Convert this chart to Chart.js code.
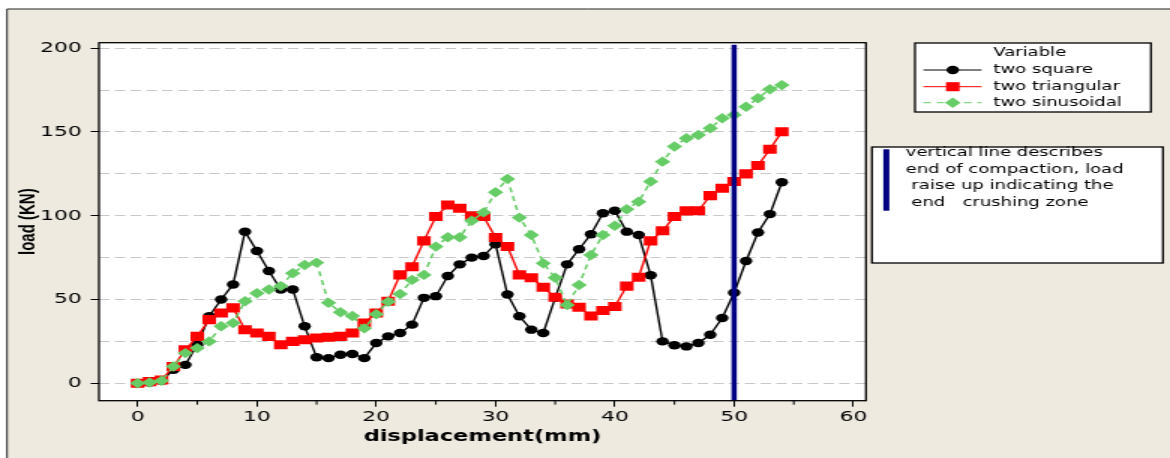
<!DOCTYPE html>
<html>
<head>
<meta charset="utf-8">
<title>load vs displacement</title>
<script src="https://cdn.jsdelivr.net/npm/chart.js@4.4.1/dist/chart.umd.min.js"></script>
<style>
  html, body { margin: 0; padding: 0; background: #fff; }
</style>
</head>
<body>
<!-- the original picture is stretched sideways, so the canvas is drawn narrow and widened by its style -->
<canvas id="chart" width="780" height="458" style="display:block;width:1170px;height:458px"></canvas>
<script>
const displacement = [0, 1, 2, 3, 4, 5, 6, 7, 8, 9, 10, 11, 12, 13, 14, 15, 16, 17, 18, 19,
  20, 21, 22, 23, 24, 25, 26, 27, 28, 29, 30, 31, 32, 33, 34, 35, 36, 37, 38, 39,
  40, 41, 42, 43, 44, 45, 46, 47, 48, 49, 50, 51, 52, 53, 54];

const twoSquare = [0, 0.5, 1.5, 8, 11, 23, 40, 50, 59, 90.5,
  79, 67, 56, 56, 34, 15.5, 15, 17, 17.5, 15,
  24, 28, 30, 35, 51, 52, 64, 71, 75, 76,
  83, 53, 40, 32, 30, 51, 71, 80, 89, 101.5,
  103, 90.5, 88.5, 64.5, 25, 22.7, 22, 24, 29, 39,
  54, 73, 90, 101, 120];

const twoTriangular = [0, 1, 2, 10, 20, 28, 38, 42, 45, 32,
  30, 28, 23, 25, 26, 27, 27.5, 28, 30, 36,
  42, 49, 64.7, 69.6, 85, 99.5, 106.4, 104.5, 100, 99.5,
  87, 81.6, 64.7, 63, 57.3, 51.3, 47.3, 45.4, 40.2, 43.4,
  45.8, 58, 63.3, 85, 91, 99.5, 102.9, 103, 112, 116.4,
  120.4, 125, 130, 139.7, 150.2];

const twoSinusoidal = [0, 0.5, 1.5, 10, 18, 21, 25, 34, 36, 49,
  53.7, 56, 58, 65.7, 70.6, 72, 48, 42.4, 40.2, 32.8,
  41.2, 48.7, 53.3, 61.7, 64.7, 81.6, 87.2, 87.2, 97, 102,
  114, 122, 98.9, 88.5, 71.6, 63, 46.7, 58.7, 76.6, 88.5,
  94, 103.9, 108.4, 120.4, 132.3, 141.3, 146.3, 148.2, 152.2, 158.2,
  160.2, 165.1, 170.1, 175.5, 178];

const seriesNames = ["two square", "two triangular", "two sinusoidal"];
const compactionEnd = 50;
const noteLines = [
  "vertical line describes",
  "end of compaction, load",
  " raise up indicating the",
  " end   crushing zone",
];

const FONT = "DejaVu Sans";

function toPoints(values) {
  return values.map((v, i) => ({ x: displacement[i], y: v }));
}

function marker(ctx, style, x, y, r, color) {
  ctx.fillStyle = color;
  ctx.beginPath();
  if (style === "circle") {
    ctx.arc(x, y, r, 0, Math.PI * 2);
  } else if (style === "rect") {
    const s = r * Math.SQRT1_2;
    ctx.rect(x - s, y - s, 2 * s, 2 * s);
  } else {
    ctx.moveTo(x - r, y);
    ctx.lineTo(x, y - r);
    ctx.lineTo(x + r, y);
    ctx.lineTo(x, y + r);
    ctx.closePath();
  }
  ctx.fill();
}

const decor = {
  id: "decor",
  beforeDraw(chart) {
    const { ctx, chartArea: a } = chart;
    ctx.save();
    ctx.fillStyle = "#fff";
    ctx.fillRect(0, 0, chart.width, chart.height);
    ctx.fillStyle = "#EEEAE0";
    ctx.fillRect(4.7, 9, chart.width, chart.height);
    ctx.strokeStyle = "#222";
    ctx.lineWidth = 1;
    ctx.beginPath();
    ctx.moveTo(4.7, chart.height);
    ctx.lineTo(4.7, 9);
    ctx.lineTo(chart.width, 9);
    ctx.stroke();
    ctx.fillStyle = "#fff";
    ctx.fillRect(a.left, a.top, a.width, a.height);
    ctx.restore();
  },
  afterDatasetsDraw(chart) {
    const { ctx, chartArea: a, scales } = chart;
    const x = scales.x.getPixelForValue(compactionEnd);
    ctx.save();
    ctx.strokeStyle = "#000080";
    ctx.lineWidth = 3.5;
    ctx.beginPath();
    ctx.moveTo(x, a.top + 2);
    ctx.lineTo(x, a.bottom);
    ctx.stroke();
    ctx.restore();
  },
  afterDraw(chart) {
    const { ctx, chartArea: a, scales } = chart;
    ctx.save();
    // plot box
    ctx.strokeStyle = "#000";
    ctx.lineWidth = 1.3;
    ctx.strokeRect(a.left, a.top, a.width, a.height);

    // short minor ticks on x
    ctx.lineWidth = 1;
    scales.x.ticks.forEach((t) => {
      if (t.value % 10 !== 0) {
        const px = scales.x.getPixelForValue(t.value);
        ctx.beginPath();
        ctx.moveTo(px, a.bottom);
        ctx.lineTo(px, a.bottom + 4);
        ctx.stroke();
      }
    });

    // legend box
    ctx.fillStyle = "#fff";
    ctx.fillRect(610, 43, 157.3, 69);
    ctx.lineWidth = 1.3;
    ctx.strokeStyle = "#000";
    ctx.strokeRect(610, 43, 157.3, 69);
    ctx.font = "12px '" + FONT + "'";
    ctx.textBaseline = "middle";
    ctx.fillStyle = "#000";
    ctx.fillText("Variable", 662.2, 53);
    const rows = [70, 86.7, 102.7];
    chart.data.datasets.forEach((ds, i) => {
      const y = rows[i];
      ctx.strokeStyle = ds.borderColor;
      ctx.lineWidth = 1;
      ctx.setLineDash(ds.borderDash || []);
      ctx.beginPath();
      ctx.moveTo(615.6, y);
      ctx.lineTo(654.4, y);
      ctx.stroke();
      ctx.setLineDash([]);
      marker(ctx, ds.pointStyle, 635.2, y, ds.pointRadius, ds.pointBackgroundColor);
      ctx.fillStyle = "#000";
      ctx.fillText(ds.label, 662.2, y);
    });

    // note box
    ctx.fillStyle = "#fff";
    ctx.fillRect(581.3, 147, 194, 116);
    ctx.strokeStyle = "#000";
    ctx.lineWidth = 1.3;
    ctx.strokeRect(581.3, 147, 194, 116);
    ctx.fillStyle = "#000080";
    ctx.fillRect(588.9, 149.3, 4, 61.4);
    ctx.fillStyle = "#000";
    noteLines.forEach((line, i) => {
      ctx.fillText(line, 603.8, 153 + i * 16.5);
    });
    ctx.restore();
  },
};

Chart.defaults.font.family = FONT;
Chart.defaults.color = "#000";

new Chart("chart", {
  type: "line",
  data: {
    datasets: [
      {
        label: seriesNames[0],
        data: toPoints(twoSquare),
        borderColor: "#000000",
        backgroundColor: "#000000",
        pointBackgroundColor: "#000000",
        pointBorderColor: "#000000",
        borderWidth: 1.4,
        pointStyle: "circle",
        pointRadius: 4.2,
        pointBorderWidth: 0,
        order: 3,
      },
      {
        label: seriesNames[1],
        data: toPoints(twoTriangular),
        borderColor: "#FF0000",
        backgroundColor: "#FF0000",
        pointBackgroundColor: "#FF0000",
        pointBorderColor: "#FF0000",
        borderWidth: 1.4,
        pointStyle: "rect",
        pointRadius: 6.4,
        pointBorderWidth: 0,
        order: 2,
      },
      {
        label: seriesNames[2],
        data: toPoints(twoSinusoidal),
        borderColor: "#66CC66",
        backgroundColor: "#66CC66",
        pointBackgroundColor: "#66CC66",
        pointBorderColor: "#66CC66",
        borderWidth: 1.5,
        borderDash: [5, 4],
        pointStyle: "rectRot",
        pointRadius: 5.2,
        pointBorderWidth: 0,
        order: 1,
      },
    ],
  },
  options: {
    responsive: false,
    animation: false,
    devicePixelRatio: 1,
    layout: {
      padding: { left: 4.7, top: 42.7, right: 202.7, bottom: 0 },
    },
    plugins: {
      legend: { display: false },
      tooltip: { enabled: false },
    },
    scales: {
      x: {
        type: "linear",
        min: -3.24,
        max: 61.05,
        ticks: {
          stepSize: 5,
          includeBounds: false,
          autoSkip: false,
          maxRotation: 0,
          padding: 2,
          color: "#000",
          font: { family: FONT, size: 14.5 },
          callback: (v) => (v % 10 === 0 ? v : ""),
        },
        grid: {
          drawOnChartArea: false,
          tickLength: 6,
          tickWidth: 1,
          tickColor: (c) => (c.tick && c.tick.value % 10 === 0 ? "#000" : "rgba(0,0,0,0)"),
        },
        border: { display: false },
        title: {
          display: true,
          text: "displacement(mm)",
          color: "#000",
          font: { family: FONT, size: 15, weight: "bold" },
          padding: { top: 0, bottom: 12 },
        },
        afterFit(scale) {
          scale.height = 57.3;
        },
      },
      y: {
        min: -10.4,
        max: 203.3,
        ticks: {
          stepSize: 25,
          includeBounds: false,
          padding: 6,
          color: "#000",
          font: { family: FONT, size: 14.5 },
          callback: (v) => (v % 50 === 0 ? v : ""),
        },
        grid: {
          color: "#C8C8C8",
          lineWidth: 1,
          tickLength: 5.5,
          tickWidth: 1,
          tickBorderDash: [],
          tickColor: (c) => (c.tick && c.tick.value % 50 === 0 ? "#000" : "rgba(0,0,0,0)"),
        },
        border: { display: false, dash: [7, 3.5] },
        title: {
          display: true,
          text: "load (KN)",
          color: "#000",
          font: { family: "Liberation Sans", size: 15, weight: "bold" },
          padding: { top: 5, bottom: 0 },
        },
        afterFit(scale) {
          scale.width = 61.3;
        },
      },
    },
  },
  plugins: [decor],
});
</script>
</body>
</html>
